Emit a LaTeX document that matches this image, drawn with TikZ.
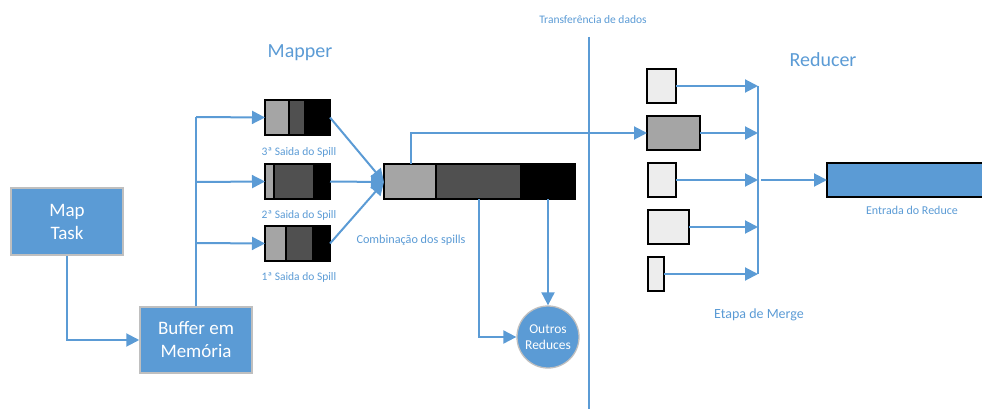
\documentclass[tikz,border=0pt]{standalone}
\usepackage{fontspec}
\setmainfont{Carlito}
\usetikzlibrary{arrows.meta}
\definecolor{flow}{HTML}{5B9BD5}
\definecolor{boxedge}{HTML}{BFBFBF}
\definecolor{segA}{HTML}{A5A5A5}
\definecolor{segB}{HTML}{505050}
\definecolor{segL}{HTML}{EDEDED}
\tikzset{
  conn/.style={draw=flow, line width=2pt, -{Triangle[length=13pt,width=13pt]}},
  wire/.style={draw=flow, line width=2pt},
  procbox/.style={fill=flow, draw=boxedge, line width=1.5pt, text=white, align=center, font=\fontsize{19}{23}\selectfont},
  seg/.style={draw=black, line width=1.3pt},
  lbl/.style={text=flow, font=\fontsize{11.5}{13}\selectfont, inner sep=0pt},
  title/.style={text=flow, font=\fontsize{20}{22}\selectfont, inner sep=0pt},
}
\begin{document}
\begin{tikzpicture}[x=1pt,y=-1pt]
\useasboundingbox (0,0) rectangle (982,409);

% process boxes
\node[procbox, minimum width=112pt, minimum height=67pt] (map) at (67,221.5) {Map\\Task};
\node[procbox, minimum width=112pt, minimum height=66pt] (buf) at (196,340) {Buffer em\\Mem\'oria};

% titles
\node[title] (tmapper) at (300,53) {Mapper};
\node[title] (treducer) at (823,60) {Reducer};

% spill outputs (three segments each)
\foreach \n/\y/\a/\b in {s3/100/289/305, s2/164/274/314, s1/226/286/313}{
  \fill[segA] (265,\y) rectangle (\a,\y+35);
  \fill[segB] (\a,\y) rectangle (\b,\y+35);
  \fill[black] (\b,\y) rectangle (330,\y+35);
  \draw[seg] (\a,\y) -- (\a,\y+35) (\b,\y) -- (\b,\y+35);
  \draw[seg] (265,\y) rectangle (330,\y+35);
  \coordinate (\n) at (297.5,\y+17.5);
  \coordinate (\n w) at (265,\y+17.5);
  \coordinate (\n e) at (330,\y+17.5);
}
\node[lbl] (l3) at (299,152) {3ª Saida do Spill};
\node[lbl] (l2) at (299,215) {2ª Saida do Spill};
\node[lbl] (l1) at (299,277) {1ª Saida do Spill};

% combined spill
\fill[segA] (384,164) rectangle (436,199);
\fill[segB] (436,164) rectangle (521,199);
\fill[black] (521,164) rectangle (575,199);
\draw[seg] (436,164) -- (436,199) (521,164) -- (521,199);
\draw[seg] (384,164) rectangle (575,199);
\coordinate (cw) at (384,182);
\coordinate (ctop) at (411,164);
\coordinate (cb1) at (479,199);
\coordinate (cb2) at (548,199);
\node[lbl, font=\fontsize{12.2}{14}\selectfont] (lcomb) at (411,240) {Combinação dos spills};

% other reduces
\node[circle, fill=flow, draw=boxedge, line width=1.3pt, minimum size=62pt, inner sep=0pt,
      text=white, align=center, font=\fontsize{13.5}{16}\selectfont] (outros) at (548,337) {Outros\\Reduces};

% data transfer boundary
\coordinate (tt) at (589,37);
\coordinate (tb) at (589,409);
\draw[wire] (tt) -- (tb);
\node[lbl, font=\fontsize{11.5}{13}\selectfont] (ltrans) at (593,20) {Transferência de dados};

% reducer inputs
\foreach \n/\xa/\ya/\xb/\yb/\c in {r1/647/69/676/103/segL, r2/647/116/700/150/segA, r3/648/163/676/197/segL, r4/648/210/689/244/segL, r5/648/257/664/291/segL}{
  \draw[fill=\c, draw=black, line width=1.3pt] (\xa,\ya) rectangle (\xb,\yb);
  \coordinate (\n w) at (\xa,{(\ya+\yb)/2});
  \coordinate (\n e) at (\xb,{(\ya+\yb)/2});
}
% merge bar
\coordinate (mt) at (758,86);
\coordinate (mb) at (758,274);
\draw[wire] (mt) -- (mb);
\foreach \n in {r1,r2,r3,r4,r5}{
  \draw[conn] (\n e) -- (\n e -| mt);
}
\node[lbl, font=\fontsize{14}{16}\selectfont] (lmerge) at (759,315) {Etapa de Merge};

% reduce input
\draw[fill=flow, draw=black, line width=1.3pt] (827,163) rectangle (990,197);
\coordinate (ew) at (827,180);
\node[lbl, font=\fontsize{12}{14}\selectfont] (lentrada) at (912,210) {Entrada do Reduce};
\draw[conn] (761,180) -- (ew);

% connectors
\draw[conn] (map.south) |- (buf.west);
\draw[wire] (buf.north) -- (196,117);
\draw[conn] (196,117) -- (s3w);
\draw[conn] (196,182) -- (s2w);
\draw[conn] (196,243) -- (s1w);
\draw[conn] (s3e) -- (cw);
\draw[conn] (s2e) -- (cw);
\draw[conn] (s1e) -- (cw);
\draw[conn] (ctop) |- (r2w);
\draw[conn] (cb1) |- (outros.west);
\draw[conn] (cb2) -- (outros.north);
\end{tikzpicture}
\end{document}
